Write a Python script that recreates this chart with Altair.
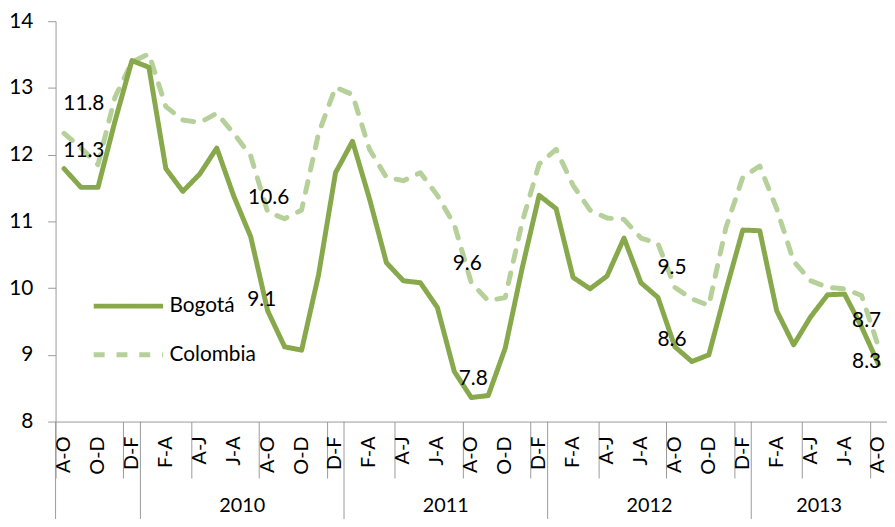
import altair as alt
import pandas as pd

# ---- data ----
periods = ["A-O", "S-N", "O-D", "N-E", "D-F",
           "E-M", "F-A", "M-M", "A-J", "M-J", "J-A", "J-S", "A-O", "S-N", "O-D", "N-E", "D-F",
           "E-M", "F-A", "M-M", "A-J", "M-J", "J-A", "J-S", "A-O", "S-N", "O-D", "N-E", "D-F",
           "E-M", "F-A", "M-M", "A-J", "M-J", "J-A", "J-S", "A-O", "S-N", "O-D", "N-E", "D-F",
           "E-M", "F-A", "M-M", "A-J", "M-J", "J-A", "J-S", "A-O"]

bogota = [11.79, 11.51, 11.51, 12.50, 13.41,
          13.31, 11.79, 11.45, 11.71, 12.10, 11.38, 10.77, 9.66, 9.12, 9.07, 10.20, 11.73,
          12.20, 11.34, 10.38, 10.11, 10.08, 9.71, 8.75, 8.36, 8.39, 9.10, 10.30, 11.39,
          11.19, 10.16, 9.99, 10.18, 10.75, 10.08, 9.86, 9.12, 8.90, 9.00, 9.96, 10.87,
          10.86, 9.66, 9.15, 9.57, 9.90, 9.91, 9.42, 8.86]

colombia = [12.32, 12.10, 11.85, 12.86, 13.39,
            13.51, 12.72, 12.52, 12.48, 12.62, 12.32, 11.98, 11.14, 11.04, 11.17, 12.32, 13.01,
            12.90, 12.08, 11.66, 11.61, 11.73, 11.39, 10.95, 10.08, 9.81, 9.86, 10.99, 11.86,
            12.08, 11.54, 11.17, 11.05, 11.03, 10.75, 10.67, 10.01, 9.84, 9.74, 10.90, 11.66,
            11.83, 11.19, 10.40, 10.11, 10.01, 9.99, 9.89, 9.12]

years = ["", "2010", "2011", "2012", "2013"]
year_first = [0, 5, 17, 29, 41]
year_last = [4, 16, 28, 40, 48]

label_idx = [0, 12, 24, 36, 48]
label_colombia = ["11.8", "10.6", "9.6", "9.5", "8.7"]
label_bogota = ["11.3", "9.1", "7.8", "8.6", "8.3"]

# placement nudges (pixels) of the data labels relative to their point
nudge_colombia = [(20, -30), (1, -14), (-4, -19), (-3, -20), (-12, -26)]
nudge_bogota = [(20, -18), (-6, -11), (2, -19), (-3, -7), (-12, -2)]

# ---- layout / style ----
W, H = 839, 404
FONT = "Lato"
GRAY = "#9A9A9A"
C_BOG = "#87A84B"
C_COL = "#B6D09A"
SERIES = ["Bogotá", "Colombia"]

n = len(periods)
idx = list(range(n))
df_bog = pd.DataFrame({"i": idx, "v": bogota, "serie": "Bogotá"})
df_col = pd.DataFrame({"i": idx, "v": colombia, "serie": "Colombia"})

xscale = alt.Scale(domain=[-0.5, n - 0.5], nice=False, zero=False)
yscale = alt.Scale(domain=[8, 14], nice=False, zero=False)
boundaries = [k - 0.5 for k in range(n + 1)]

leg = alt.Legend(title=None, orient="none", legendX=36, legendY=250,
                 symbolType="stroke", symbolSize=4900, symbolStrokeWidth=5,
                 labelFont=FONT, labelFontSize=21, labelColor="black",
                 labelOffset=4, rowPadding=1, padding=0)

color = alt.Color("serie:N", scale=alt.Scale(domain=SERIES, range=[C_BOG, C_COL]), legend=leg)
dash = alt.StrokeDash("serie:N", scale=alt.Scale(domain=SERIES, range=[[1, 0], [11, 12]]), legend=leg)

xenc = alt.X("i:Q", scale=xscale,
             axis=alt.Axis(values=boundaries, labels=False, tickSize=57, tickColor=GRAY,
                           domainColor=GRAY, grid=False, title=None, tickWidth=1))
yenc = alt.Y("v:Q", scale=yscale,
             axis=alt.Axis(values=[8, 9, 10, 11, 12, 13, 14], format="d", tickSize=8,
                           labelPadding=15, labelFont=FONT, labelFontSize=21,
                           labelColor="black", tickColor=GRAY, domainColor=GRAY,
                           grid=False, title=None))

line_col = alt.Chart(df_col).mark_line(strokeWidth=5, strokeCap="round", strokeJoin="round").encode(
    x=xenc, y=yenc, color=color, strokeDash=dash)
line_bog = alt.Chart(df_bog).mark_line(strokeWidth=5, strokeCap="round", strokeJoin="round").encode(
    x="i:Q", y="v:Q", color=color, strokeDash=dash)

layers = [line_col, line_bog]

# data labels
for series, labels, nudges in [(colombia, label_colombia, nudge_colombia),
                               (bogota, label_bogota, nudge_bogota)]:
    for k, lab, (dx, dy) in zip(label_idx, labels, nudges):
        d = pd.DataFrame({"i": [k], "v": [series[k]], "t": [lab]})
        layers.append(alt.Chart(d).mark_text(font=FONT, fontSize=21, color="black",
                                             dx=dx, dy=dy, baseline="middle", align="center")
                      .encode(x="i:Q", y="v:Q", text="t:N"))

# month labels (every other period)
df_months = pd.DataFrame({"i": idx[::2], "t": periods[::2]})
layers.append(alt.Chart(df_months).mark_text(font=FONT, fontSize=20, color="black", angle=270,
                                             align="right", baseline="middle")
              .encode(x="i:Q", y=alt.value(H + 15), text="t:N"))

# year groups
df_years = pd.DataFrame({"first": year_first, "last": year_last, "t": years})
df_years["c"] = (df_years["first"] + df_years["last"]) / 2
df_years["b"] = df_years["first"] - 0.5
layers.append(alt.Chart(df_years).mark_text(font=FONT, fontSize=20, color="black",
                                            baseline="alphabetic")
              .encode(x="c:Q", y=alt.value(H + 91), text="t:N"))
layers.append(alt.Chart(df_years).mark_rule(color=GRAY, strokeWidth=1)
              .encode(x="b:Q", y=alt.value(H), y2=alt.value(H + 110)))

chart = alt.layer(*layers).properties(
    width=W, height=H,
    autosize=alt.AutoSizeParams(type="none"),
    padding={"left": 48, "top": 11, "right": 0, "bottom": 96},
    background="white",
).configure_view(stroke=None)

chart.save("out.html", embed_options={"renderer": "svg", "actions": False})
